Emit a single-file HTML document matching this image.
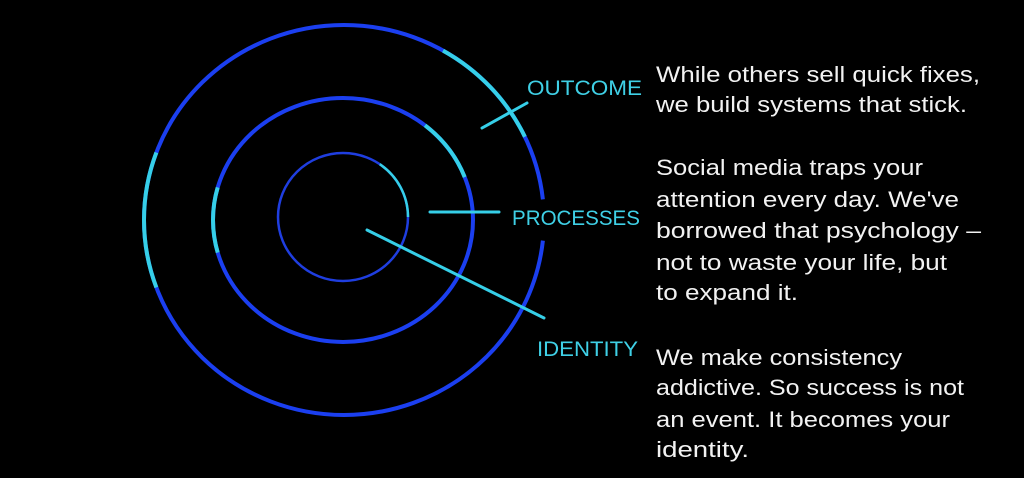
<!DOCTYPE html>
<html><head><meta charset="utf-8"><style>
html,body{margin:0;padding:0;background:#000;width:1024px;height:478px;overflow:hidden}
svg{display:block}
.t{font-family:"Liberation Sans",sans-serif;font-size:22px;fill:#f2f2f2}
.l{font-family:"Liberation Sans",sans-serif;font-size:21px;fill:#3fd0e6}
</style></head><body>
<svg width="1024" height="478" viewBox="0 0 1024 478">
<rect width="1024" height="478" fill="#000"/>
<g fill="none" stroke-width="4">
<ellipse cx="344" cy="220" rx="200" ry="195" stroke="#1b3ff0" pathLength="360" stroke-dasharray="0 6 348 6"/>
<ellipse cx="344" cy="220" rx="200" ry="195" stroke="#36cfe8" pathLength="360" stroke-dasharray="0 160 40 100 35 25"/>
<ellipse cx="343" cy="220" rx="130" ry="122" stroke="#1b3ff0"/>
<ellipse cx="343" cy="220" rx="130" ry="122" stroke="#36cfe8" pathLength="360" stroke-dasharray="0 165 30 115 30 20"/>
</g>
<ellipse cx="343" cy="217" rx="65" ry="64" fill="none" stroke="#1f3ee0" stroke-width="2.5"/>
<ellipse cx="343" cy="217" rx="65" ry="64" fill="none" stroke="#36cfe8" stroke-width="2.5" pathLength="360" stroke-dasharray="0 305 55"/>
<g stroke="#36cfe8" stroke-width="3" stroke-linecap="round">
<line x1="482" y1="128" x2="527" y2="103"/>
<line x1="430" y1="212" x2="499" y2="212"/>
<line x1="367" y1="230" x2="544" y2="318"/>
</g>
<text class="l" x="527" y="95" textLength="115" lengthAdjust="spacingAndGlyphs">OUTCOME</text>
<text class="l" x="512" y="225" textLength="128" lengthAdjust="spacingAndGlyphs">PROCESSES</text>
<text class="l" x="537" y="356" textLength="101" lengthAdjust="spacingAndGlyphs">IDENTITY</text>
<text class="t" x="656" y="82" textLength="324" lengthAdjust="spacingAndGlyphs">While others sell quick fixes,</text>
<text class="t" x="656" y="112" textLength="311" lengthAdjust="spacingAndGlyphs">we build systems that stick.</text>
<text class="t" x="656" y="175" textLength="267" lengthAdjust="spacingAndGlyphs">Social media traps your</text>
<text class="t" x="656" y="207" textLength="303" lengthAdjust="spacingAndGlyphs">attention every day. We've</text>
<text class="t" x="656" y="238" textLength="325" lengthAdjust="spacingAndGlyphs">borrowed that psychology –</text>
<text class="t" x="656" y="270" textLength="291" lengthAdjust="spacingAndGlyphs">not to waste your life, but</text>
<text class="t" x="656" y="300" textLength="142" lengthAdjust="spacingAndGlyphs">to expand it.</text>
<text class="t" x="656" y="365" textLength="246" lengthAdjust="spacingAndGlyphs">We make consistency</text>
<text class="t" x="656" y="395" textLength="308" lengthAdjust="spacingAndGlyphs">addictive. So success is not</text>
<text class="t" x="656" y="427" textLength="294" lengthAdjust="spacingAndGlyphs">an event. It becomes your</text>
<text class="t" x="656" y="457" textLength="93" lengthAdjust="spacingAndGlyphs">identity.</text>
</svg>
</body></html>
